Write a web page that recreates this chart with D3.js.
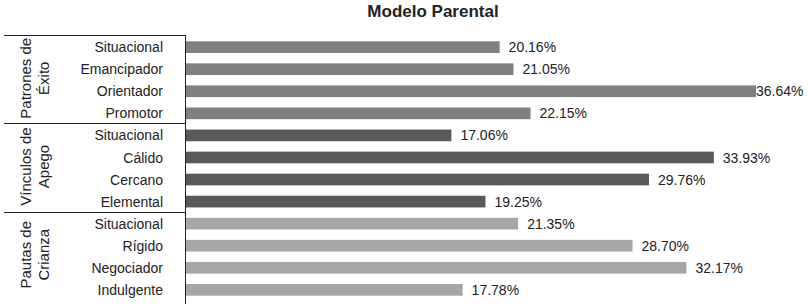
<!DOCTYPE html>
<html>
<head>
<meta charset="utf-8">
<script src="https://cdn.jsdelivr.net/npm/d3@7"></script>
<style>
  body { margin: 0; background: #fff; }
  text { font-family: "Liberation Sans", Arial, sans-serif; fill: #222; }
</style>
</head>
<body>
<div id="container"></div>
<script>
const groups = ['Patrones de|Éxito', 'Vínculos de|Apego', 'Pautas de|Crianza'];
const groupColors = ['#808080', '#595959', '#a6a6a6'];
const categories = [
    'Situacional', 'Emancipador', 'Orientador', 'Promotor',
    'Situacional', 'Cálido', 'Cercano', 'Elemental',
    'Situacional', 'Rígido', 'Negociador', 'Indulgente'
];
const groupIndex = [0, 0, 0, 0, 1, 1, 1, 1, 2, 2, 2, 2];
const values = [20.16, 21.05, 36.64, 22.15, 17.06, 33.93, 29.76, 19.25, 21.35, 28.70, 32.17, 17.78];

const w = 808;
const h = 304;
const axisX = 186;
const plotTop = 36;
const plotBottom = 301;

const svg = d3.select('#container').append('svg')
    .attr('width', w)
    .attr('height', h);

svg.append('text')
    .attr('x', 433)
    .attr('y', 17)
    .attr('text-anchor', 'middle')
    .style('font-size', '17px')
    .style('font-weight', 'bold')
    .text('Modelo Parental');

const rows = categories.map((c, i) => ({ id: i, name: c, value: values[i], g: groupIndex[i] }));

const xScale = d3.scaleLinear()
    .domain([0, 36.64])
    .range([axisX, 756]);

const yScale = d3.scaleBand()
    .domain(rows.map(d => d.id))
    .range([plotTop, plotBottom])
    .paddingInner(0.47)
    .paddingOuter(0.24);

svg.selectAll('rect.bar')
    .data(rows)
    .join('rect')
    .attr('class', 'bar')
    .attr('x', xScale(0))
    .attr('y', d => yScale(d.id))
    .attr('width', d => xScale(d.value) - xScale(0))
    .attr('height', yScale.bandwidth())
    .attr('fill', d => groupColors[d.g]);

svg.selectAll('text.val')
    .data(rows)
    .join('text')
    .attr('class', 'val')
    .attr('x', d => Math.min(xScale(d.value) + 9, w - 52))
    .attr('y', d => yScale(d.id) + yScale.bandwidth() / 2)
    .attr('dy', '0.36em')
    .style('font-size', '14px')
    .text(d => d.value.toFixed(2) + '%');

svg.selectAll('text.cat')
    .data(rows)
    .join('text')
    .attr('class', 'cat')
    .attr('x', 163)
    .attr('y', d => yScale(d.id) + yScale.bandwidth() / 2)
    .attr('dy', '0.36em')
    .attr('text-anchor', 'end')
    .style('font-size', '14px')
    .text(d => d.name);

// group frame lines
const step = yScale.step();
const groupBounds = groups.map((g, i) => {
    const ids = rows.filter(d => d.g === i).map(d => d.id);
    const y0 = yScale(ids[0]) + yScale.bandwidth() / 2 - step * 0.5 - 1;
    const y1 = yScale(ids[ids.length - 1]) + yScale.bandwidth() / 2 + step * 0.5 - 1;
    return { label: g, y0, y1 };
});

svg.append('line')
    .attr('x1', axisX - 0.5).attr('x2', axisX - 0.5)
    .attr('y1', Math.round(groupBounds[0].y0)).attr('y2', h)
    .attr('stroke', '#222');

svg.selectAll('line.sep')
    .data(groupBounds)
    .join('line')
    .attr('class', 'sep')
    .attr('x1', 4).attr('x2', axisX)
    .attr('y1', d => Math.round(d.y0) + 0.5)
    .attr('y2', d => Math.round(d.y0) + 0.5)
    .attr('stroke', '#222');

const glabel = svg.selectAll('text.grp')
    .data(groupBounds)
    .join('text')
    .attr('class', 'grp')
    .attr('text-anchor', 'middle')
    .attr('transform', d => `translate(0, ${(d.y0 + d.y1) / 2 - 1}) rotate(-90)`)
    .style('font-size', '15px');

glabel.selectAll('tspan')
    .data(d => d.label.split('|'))
    .join('tspan')
    .attr('x', 0)
    .attr('y', (d, i) => i === 0 ? 31 : 49)
    .text(d => d);
</script>
</body>
</html>
